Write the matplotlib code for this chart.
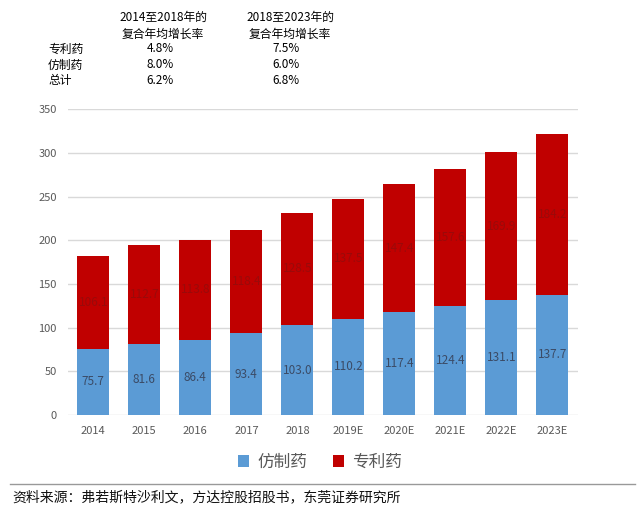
import matplotlib.pyplot as plt

plt.rcParams['font.family'] = ['Noto Sans CJK SC', 'DejaVu Sans']

years = ['2014', '2015', '2016', '2017', '2018', '2019E', '2020E', '2021E', '2022E', '2023E']
generic = [75.7, 81.6, 86.4, 93.4, 103.0, 110.2, 117.4, 124.4, 131.1, 137.7]
patent = [106.1, 112.7, 113.8, 118.4, 128.5, 137.5, 147.4, 157.6, 169.9, 184.2]

row_names = ['专利药', '仿制药', '总计']
cagr_1418 = ['4.8%', '8.0%', '6.2%']
cagr_1823 = ['7.5%', '6.0%', '6.8%']

blue = '#5B9BD5'
red = '#C00000'

fig = plt.figure(figsize=(6.4, 5.08), dpi=100)
ax = fig.add_axes([0.106, 0.183, 0.797, 0.602])

x = range(len(years))
b1 = ax.bar(x, generic, width=0.63, color=blue, label='仿制药', zorder=3)
b2 = ax.bar(x, patent, width=0.63, bottom=generic, color=red, label='专利药', zorder=3)

for i in x:
    ax.text(i, generic[i] / 2, f'{generic[i]:.1f}', ha='center', va='center',
            fontsize=8.5, color='#3B4B66', zorder=4)
    ax.text(i, generic[i] + patent[i] / 2, f'{patent[i]:.1f}', ha='center', va='center',
            fontsize=8.5, color='#9A0A0A', zorder=4)

ax.set_xlim(-0.5, len(years) - 0.5)
ax.set_ylim(0, 350)
ax.set_yticks(range(0, 351, 50))
ax.set_xticks(list(x))
ax.set_xticklabels(years)
ax.yaxis.grid(True, color='#D9D9D9', linewidth=1, zorder=0)
for s in ax.spines.values():
    s.set_visible(False)
ax.tick_params(length=0, labelsize=8, colors='#595959', pad=8)

fig.legend(handles=[b1, b2], loc='center', bbox_to_anchor=(0.5, 0.09), ncol=2,
           frameon=False, fontsize=12, handlelength=0.7, handleheight=0.7,
           columnspacing=1.5, handletextpad=0.5, labelcolor='#595959')

# CAGR table at top
fig.text(163 / 640, 1 - 17 / 508, '2014至2018年的', ha='center', va='center', fontsize=8.5)
fig.text(163 / 640, 1 - 34 / 508, '复合年均增长率', ha='center', va='center', fontsize=8.5)
fig.text(290 / 640, 1 - 17 / 508, '2018至2023年的', ha='center', va='center', fontsize=8.5)
fig.text(290 / 640, 1 - 34 / 508, '复合年均增长率', ha='center', va='center', fontsize=8.5)
for k, name in enumerate(row_names):
    yy = 1 - (49 + 16 * k) / 508
    fig.text(48 / 640, yy, name, ha='left', va='center', fontsize=8.5)
    fig.text(160 / 640, yy, cagr_1418[k], ha='center', va='center', fontsize=8.5)
    fig.text(286 / 640, yy, cagr_1823[k], ha='center', va='center', fontsize=8.5)

fig.add_artist(plt.Line2D([10 / 640, 635 / 640], [1 - 484 / 508] * 2,
                          color='#999999', linewidth=1))
fig.text(12 / 640, 1 - 497 / 508, '资料来源：弗若斯特沙利文，方达控股招股书，东莞证券研究所',
         ha='left', va='center', fontsize=10, fontweight='medium', color='#111111')

fig.savefig('out.png', dpi=100)
